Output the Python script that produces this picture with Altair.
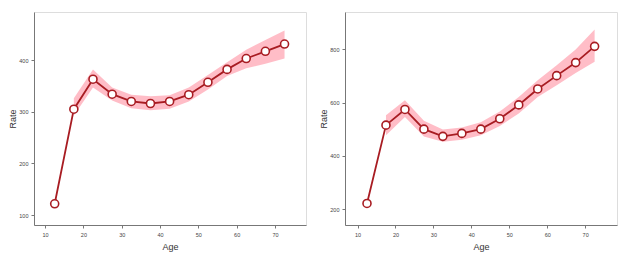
import altair as alt
import pandas as pd

age = [12.5, 17.5, 22.5, 27.5, 32.5, 37.5, 42.5, 47.5, 52.5, 57.5, 62.5, 67.5, 72.5]

rate_a = [122, 305, 363, 334, 320, 316, 320, 333, 357, 382, 403, 417, 431]
lo_a = [None, 293, 347, 322, 307, 303, 306, 320, 343, 369, 384, 393, 403]
hi_a = [None, 326, 382, 347, 333, 330, 332, 347, 371, 396, 420, 439, 457]

rate_b = [221, 515, 574, 500, 473, 484, 500, 539, 591, 651, 701, 750, 811]
lo_b = [None, 477, 546, 472, 453, 460, 477, 512, 559, 621, 665, 711, 753]
hi_b = [None, 552, 609, 532, 499, 506, 526, 566, 621, 684, 740, 799, 874]

x_ticks = [10, 20, 30, 40, 50, 60, 70]
y_ticks_a = [100, 200, 300, 400]
y_ticks_b = [200, 400, 600, 800]

FONT = "Liberation Sans"


def panel(rate, lo, hi, xdom, ydom, yticks, width):
    df = pd.DataFrame({"Age": age, "Rate": rate, "lo": lo, "hi": hi})
    x = alt.X("Age:Q", title="Age",
              scale=alt.Scale(domain=xdom, nice=False, zero=False),
              axis=alt.Axis(values=x_ticks, grid=False, tickSize=3, labelPadding=4,
                            labelFontSize=5.5, titleFontSize=9, titlePadding=5,
                            domainColor="#777", tickColor="#777", labelColor="#444",
                            titleColor="#333", titleFontWeight="normal"))
    y_scale = alt.Scale(domain=ydom, nice=False, zero=False)
    y_axis = alt.Axis(values=yticks, grid=False, tickSize=3, labelPadding=3,
                      labelFontSize=5.5, titleFontSize=9, titlePadding=1,
                      domainColor="#777", tickColor="#777", labelColor="#444",
                      titleColor="#333", titleFontWeight="normal")
    band = alt.Chart(df).transform_filter("datum.lo != null").mark_area(
        color="#ffb6c1", opacity=0.9).encode(
        x=x, y=alt.Y("lo:Q", title="Rate", scale=y_scale, axis=y_axis), y2="hi:Q")
    line = alt.Chart(df).mark_line(color="#a81c22", strokeWidth=1.8).encode(
        x=x, y=alt.Y("Rate:Q", title="Rate", scale=y_scale, axis=y_axis))
    pts = alt.Chart(df).mark_point(filled=True, fill="white", stroke="#a81c22",
                                   strokeWidth=1.6, size=64, opacity=1).encode(
        x=x, y=alt.Y("Rate:Q", title="Rate", scale=y_scale, axis=y_axis))
    return alt.layer(band, line, pts).properties(width=width, height=213)


left = panel(rate_a, lo_a, hi_a, [7.1, 78.1], [81, 493], y_ticks_a, 272)
right = panel(rate_b, lo_b, hi_b, [6.7, 78.4], [140, 940], y_ticks_b, 272)

chart = alt.hconcat(left, right, spacing=12).configure_view(
    stroke="#aaa", strokeWidth=1).configure(font=FONT).properties(
    padding={"top": 3, "left": 0, "right": 0, "bottom": 0})

chart.save("out.html", embed_options={"renderer": "svg", "actions": False})
